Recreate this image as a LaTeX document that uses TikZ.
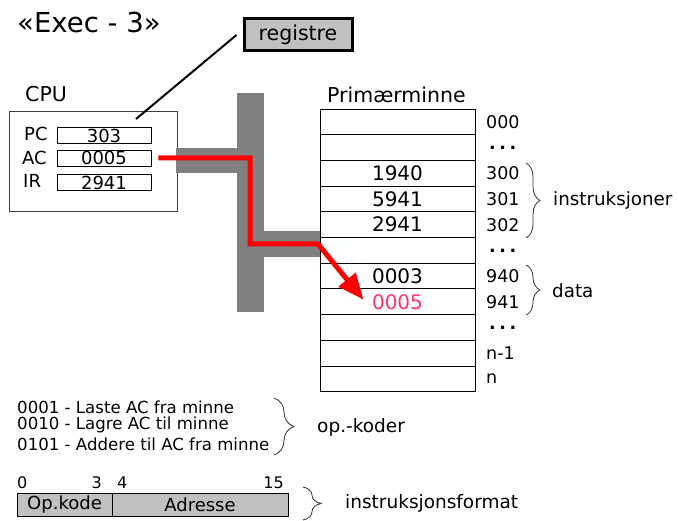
\documentclass[tikz,border=0pt]{standalone}
\usepackage{fontspec}
\setmainfont{DejaVu Sans}
\usetikzlibrary{arrows.meta,positioning,decorations.pathreplacing}
\definecolor{BusGray}{HTML}{808080}
\definecolor{BoxGray}{HTML}{C0C0C0}
\definecolor{ArrowRed}{HTML}{FF0000}
\definecolor{DataPink}{HTML}{FF3366}
\newcommand\skipdots{\textbf{.\kern3.6pt.\kern3.6pt.}}
\tikzset{
  % Registers and memory cells
  reg/.style={rectangle,draw,line width=0.8pt,minimum width=94pt,minimum height=16pt,
              inner sep=0pt,font=\fontsize{18}{18}\selectfont},
  cell/.style={rectangle,draw,line width=0.8pt,minimum width=155pt,minimum height=25.7pt,
               inner sep=0pt,font=\fontsize{20}{20}\selectfont},
  fld/.style={rectangle,draw,line width=0.8pt,fill=BoxGray,minimum height=23pt,
              inner sep=0pt,font=\fontsize{18}{18}\selectfont},
  % Texts
  addr/.style={anchor=west,inner sep=0pt,font=\fontsize{17.5}{17.5}\selectfont},
  lbl/.style={anchor=west,inner sep=0pt,font=\fontsize{20.5}{20.5}\selectfont},
  small/.style={anchor=west,inner sep=0pt,font=\fontsize{16.6}{16.6}\selectfont},
  side/.style={anchor=west,inner sep=0pt,font=\fontsize{18.3}{18.3}\selectfont},
  % Lines
  brc/.style={decorate,decoration={brace,amplitude=#1},line width=0.8pt,draw=black!80},
  bus/.style={fill=BusGray,draw=none},
  flow/.style={-{Triangle[length=26pt,width=21pt]},ArrowRed,line width=5pt}
}

\begin{document}
\begin{tikzpicture}[x=1pt,y=-1pt]
  \useasboundingbox (0,0) rectangle (678,521);

  \node[lbl,font=\fontsize{27.5}{27.5}\selectfont] (title) at (17,22) {«Exec - 3»};
  \node[rectangle,draw,line width=3pt,fill=BoxGray,minimum width=108pt,minimum height=32pt,
        inner sep=0pt,font=\fontsize{20.5}{20.5}\selectfont] (registre) at (298,35) {registre};

  % CPU
  \node[lbl] (cpulbl) at (25,94) {CPU};
  \node[rectangle,draw=black!75,line width=0.8pt,minimum width=168pt,minimum height=100pt,
        inner sep=0pt] (cpu) at (93,161) {};
  \node[reg] (pc) at (104,135.5) {303};
  \node[reg] (ac) at (104,158) {0005};
  \node[reg] (ir) at (104,182.5) {2941};
  \node[anchor=west,inner sep=0pt,font=\fontsize{18}{18}\selectfont] (pclbl) at (24,134) {PC};
  \node[anchor=west,inner sep=0pt,font=\fontsize{18}{18}\selectfont] (aclbl) at (22,158) {AC};
  \node[anchor=west,inner sep=0pt,font=\fontsize{18}{18}\selectfont] (irlbl) at (23,181) {IR};
  \coordinate (regpt) at (136,119);
  \draw[line width=2pt] ([xshift=-6pt]registre.west) -- (regpt);

  % Bus
  \fill[bus] (237,93) rectangle (264,312);
  \fill[bus] (176,148) rectangle (237,173);
  \fill[bus] (264,231) rectangle (320,257);

  % Memory
  \node[lbl] (memlbl) at (327,95) {Primærminne};
  \foreach \i/\v in {1/{},2/{},3/1940,4/5941,5/2941,6/{},7/0003,8/{},9/{},10/{},11/{}}
    \node[cell] (m\i) at (397.5,{109+25.7*(\i-0.5)}) {\v};
  \node[font=\fontsize{20}{20}\selectfont,text=DataPink,inner sep=0pt] (val) at (m8) {0005};

  \foreach \i/\a in {1/000,3/300,4/301,5/302,7/940,8/941,10/n-1,11/n}
    \node[addr] (a\i) at (486,{109+25.7*(\i-0.5)}) {\a};
  \foreach \i in {2,6,9}
    \node[addr] (a\i) at (489,{109+25.7*(\i-0.5)}) {\skipdots};

  % Braces
  \coordinate (b1) at (526,163);
  \coordinate (b2) at (526,238);
  \coordinate (b3) at (526,265);
  \coordinate (b4) at (526,315);
  \draw[brc=14pt] (b1) -- (b2);
  \draw[brc=14pt] (b3) -- (b4);
  \node[side] (instr) at (553,200) {instruksjoner};
  \node[side] (data) at (552,291) {data};

  % Transfer
  \draw[flow] ([xshift=7pt]ac.east) -- (250,158) -- (250,244) -- (318,244)
    -- ([xshift=-34pt,yshift=2pt]m8.center);

  % Op codes
  \node[small] (op1) at (17,407) {0001 - Laste AC fra minne};
  \node[small] (op2) at (17,425) {0010 - Lagre AC til minne};
  \node[small] (op3) at (17,444) {0101 - Addere til AC fra minne};
  \coordinate (b5) at (274,398);
  \coordinate (b6) at (274,455);
  \draw[brc=20pt] (b5) -- (b6);
  \node[anchor=west,inner sep=0pt,font=\fontsize{18.5}{18.5}\selectfont] (opk) at (317,427) {op.-koder};

  % Instruction format
  \node[fld,minimum width=95pt] (opkode) at (64.5,504.5) {Op.kode};
  \node[fld,minimum width=176pt] (adresse) at (200,504.5) {Adresse};
  \node[anchor=base west,inner sep=0pt,font=\fontsize{16}{16}\selectfont] (bit0) at (17,488) {0};
  \node[anchor=base east,inner sep=0pt,font=\fontsize{16}{16}\selectfont] (bit3) at (102,488) {3};
  \node[anchor=base west,inner sep=0pt,font=\fontsize{16}{16}\selectfont] (bit4) at (117,488) {4};
  \node[anchor=base east,inner sep=0pt,font=\fontsize{16}{16}\selectfont] (bit15) at (284,488) {15};
  \coordinate (b7) at (303,487);
  \coordinate (b8) at (303,520);
  \draw[brc=18pt] (b7) -- (b8);
  \node[anchor=west,inner sep=0pt,font=\fontsize{18.5}{18.5}\selectfont] (fmt) at (345,503) {instruksjonsformat};
\end{tikzpicture}
\end{document}
